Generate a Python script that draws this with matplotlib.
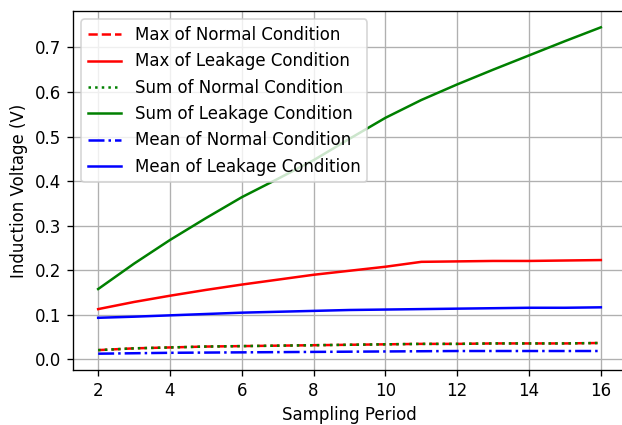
import matplotlib
matplotlib.use('Agg')
import matplotlib.pyplot as plt

# Sampling periods
periods = [2, 3, 4, 5, 6, 7, 8, 9, 10, 11, 12, 13, 14, 15, 16]

# Induction voltage readings (V)
max_normal = [0.021, 0.025, 0.027, 0.029, 0.030, 0.031, 0.032, 0.033, 0.034, 0.035, 0.035, 0.036, 0.036, 0.036, 0.037]
max_leakage = [0.113, 0.129, 0.143, 0.156, 0.168, 0.179, 0.190, 0.199, 0.208, 0.219, 0.220, 0.221, 0.221, 0.222, 0.223]
sum_normal = [0.021, 0.025, 0.027, 0.029, 0.030, 0.031, 0.032, 0.033, 0.034, 0.035, 0.035, 0.036, 0.036, 0.036, 0.037]
sum_leakage = [0.158, 0.215, 0.268, 0.317, 0.364, 0.405, 0.447, 0.495, 0.542, 0.582, 0.617, 0.650, 0.682, 0.714, 0.745]
mean_normal = [0.013, 0.014, 0.015, 0.0155, 0.016, 0.0165, 0.017, 0.0175, 0.018, 0.0185, 0.019, 0.019, 0.019, 0.019, 0.019]
mean_leakage = [0.0935, 0.096, 0.099, 0.102, 0.105, 0.107, 0.109, 0.111, 0.112, 0.113, 0.114, 0.115, 0.116, 0.116, 0.117]

DPI = 120
fig = plt.figure(figsize=(622 / DPI, 425 / DPI), dpi=DPI)
# right edge sits just past the picture, as in the cropped original
ax = fig.add_axes([0.1174, 0.1294, 0.889, 0.8447])

ax.plot(periods, max_normal, 'r--', label='Max of Normal Condition')
ax.plot(periods, max_leakage, 'r-', label='Max of Leakage Condition')
ax.plot(periods, sum_normal, 'g:', label='Sum of Normal Condition')
ax.plot(periods, sum_leakage, 'g-', label='Sum of Leakage Condition')
ax.plot(periods, mean_normal, 'b-.', label='Mean of Normal Condition')
ax.plot(periods, mean_leakage, 'b-', label='Mean of Leakage Condition')

ax.set_xlabel('Sampling Period')
ax.set_ylabel('Induction Voltage (V)')
ax.set_xticks(range(2, 17, 2))
ax.grid(True)
ax.legend(loc='upper left')

fig.savefig('out.png', dpi=DPI)
